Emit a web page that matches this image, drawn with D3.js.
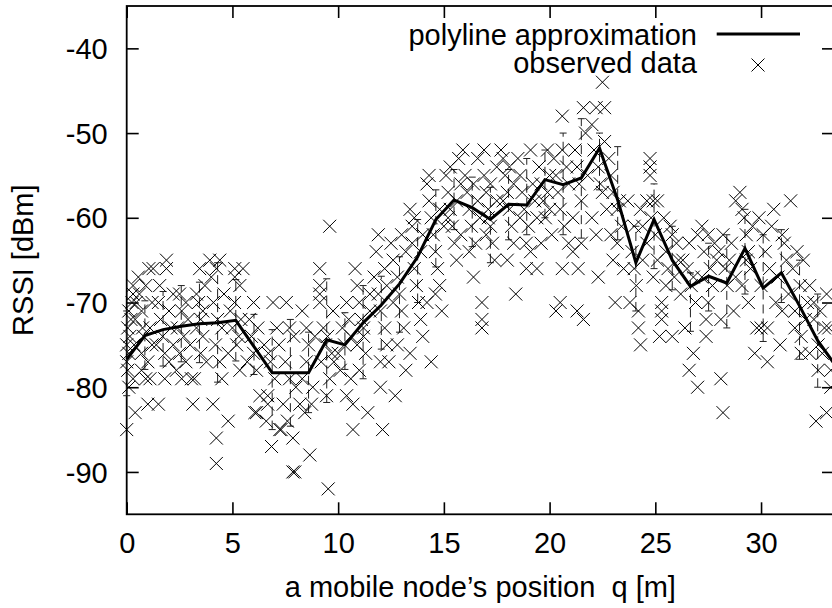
<!DOCTYPE html>
<html>
<head>
<meta charset="utf-8">
<script src="https://cdn.jsdelivr.net/npm/d3@7/dist/d3.min.js"></script>
<style>
  html, body { margin: 0; padding: 0; background: #fff; }
  svg { display: block; }
  text { font-family: "Liberation Sans", Arial, Helvetica, sans-serif; fill: #000; white-space: pre; }
</style>
</head>
<body>
<div id="chart"></div>
<script>
// ---------------- data ----------------
const xTicks = [0, 5, 10, 15, 20, 25, 30];
const yTicks = [-90, -80, -70, -60, -50, -40];
const xLabel = "a mobile node\u2019s position  q [m]";
const yLabel = "RSSI [dBm]";
const legendNames = ["polyline approximation", "observed data"];

// polyline approximation vertices (position q [m], RSSI [dBm])
const polyQ = [0, 0.86, 1.72, 2.58, 3.44, 4.30, 5.16, 6.02, 6.88, 7.74, 8.60, 9.46, 10.32, 11.18, 12.04, 12.90,
  13.76, 14.62, 15.48, 16.34, 17.20, 18.06, 18.92, 19.78, 20.64, 21.50, 22.36, 23.22, 24.08, 24.94, 25.80,
  26.66, 27.52, 28.38, 29.24, 30.10, 30.96, 31.82, 32.68, 33.54];
const polyRSSI = [-76.7, -73.9, -73.2, -72.8, -72.5, -72.4, -72.1, -75.2, -78.3, -78.3, -78.3, -74.4, -75.0, -72.4,
  -70.3, -67.8, -64.6, -60.2, -57.9, -58.8, -60.2, -58.4, -58.5, -55.5, -56.1, -55.3, -51.8, -57.9, -65.3,
  -60.2, -65.0, -68.1, -66.9, -67.7, -63.6, -68.3, -66.5, -70.4, -74.5, -77.5];

// dashed error bars at the same positions (low / high)
const errLow = [-81, -77.9, -77.5, -77, -77.1, -79.4, -76.9, -78.5, -85, -84.6, -83, -81.8, -77.9, -79, -75.5,
  -73.5, -70, -65.8, -61.4, -63.4, -65.3, -62.6, -62, -60, -62, -62.4, -56.7, -62.6, -71, -66, -68.5, -73.4,
  -71, -73, -69, -74.6, -70, -76.7, -80, -82];
const errHigh = [-71, -69.8, -68.7, -68, -67.6, -65.3, -67.3, -71.4, -73.2, -72, -73.5, -67.2, -71.2, -68, -66.9,
  -64.6, -60.2, -56.7, -54.3, -55.2, -56.4, -54.3, -53, -52, -50, -48.3, -50, -51.6, -61, -56, -61, -66.5,
  -63, -62, -59, -62, -61.4, -65, -69, -72];

// observed data [q, RSSI]
const observed = [
  [0,-85],[0.1,-80],[0.05,-78],[0,-77],[0.1,-76],[0,-75],[0.15,-74],[0.05,-73],[0.2,-72],[0.1,-71],[0.25,-70],[0.3,-69],[0.3,-68],[0.4,-83],[0.3,-79],[0.35,-75],[0.4,-72],[0.45,-70],
  [0.55,-67],[0.6,-69],[0.7,-71],[0.75,-73],[0.8,-74],[0.7,-76],[0.7,-78],[0.9,-79],[1.0,-82],[1.1,-79],[0.9,-68],[1.05,-66],[1.2,-70],[1.2,-75],[1.0,-77],[1.25,-66],[1.1,-73],
  [1.5,-82],[1.56,-68],[1.88,-65],[1.88,-66],[1.6,-72],[1.7,-74],[1.8,-76],[1.8,-79],[2.0,-71],[2.1,-73],[2.0,-77],[1.5,-70],[2.2,-69],[2.2,-75],[1.4,-75],
  [2.35,-78],[2.5,-69],[2.6,-71],[2.7,-74],[2.5,-76],[2.8,-70],[2.9,-72],[2.8,-77],[3.0,-75],[2.6,-79],[2.4,-73],
  [3.06,-79],[3.13,-82],[3.2,-79],[3.45,-66],[3.3,-69],[3.4,-70],[3.5,-72],[3.6,-74],[3.5,-76],[3.77,-77],[3.3,-73],[3.7,-68],[3.6,-71],
  [3.93,-65],[4.08,-82],[4.24,-66],[4.24,-86],[4.24,-89],[4.4,-65],[4.1,-70],[4.3,-72],[4.5,-73],[4.2,-75],[4.4,-77],[4.6,-69],[4.0,-67],[4.5,-79],
  [4.8,-84],[5.11,-66],[5.11,-67],[5.35,-68],[5.5,-66],[4.9,-71],[5.0,-73],[5.2,-75],[5.35,-78],[5.1,-70],[5.4,-72],[4.8,-76],[5.3,-74],
  [6.0,-70],[5.8,-72],[5.9,-74],[6.0,-76],[6.14,-78],[6.14,-83],[6.06,-83],[6.3,-81],[5.7,-77],[6.2,-73],
  [6.6,-84],[6.67,-81],[6.67,-82],[6.85,-87],[6.92,-70],[6.5,-75],[6.8,-77],[7.0,-79],[7.1,-73],[6.7,-76],[7.2,-75],
  [7.24,-85],[7.3,-85],[7.55,-70],[7.86,-86],[7.86,-90],[7.95,-90],[7.5,-77],[7.7,-79],[7.4,-82],[7.6,-84],[8.0,-80],[7.9,-74],[7.7,-73],
  [8.19,-82],[8.42,-83],[8.66,-88],[8.74,-82],[8.3,-79],[8.5,-77],[8.8,-80],[8.6,-75],[8.9,-74],[8.3,-71],[8.5,-73],
  [9.13,-66],[9.13,-68],[9.13,-69],[9.13,-70],[9.45,-81],[9.53,-92],[9.6,-61],[9.3,-73],[9.4,-75],[9.5,-74],[9.7,-76],[9.76,-71],[9.8,-77],[9.2,-77],[9.6,-79],
  [10.4,-81],[10.6,-79],[10.7,-82],[10.7,-85],[10.2,-73],[10.3,-75],[10.5,-72],[10.0,-76],[10.4,-70],[10.6,-74],[10.1,-78],
  [10.8,-66],[10.9,-68],[11.0,-70],[11.1,-72],[11.2,-74],[11.3,-76],[11.4,-83],[11.0,-78],[11.5,-71],[11.5,-69],[11.2,-73],[10.9,-75],
  [11.7,-67],[11.8,-64],[11.9,-69],[12.0,-71],[12.0,-77],[12.0,-80],[12.1,-85],[12.2,-73],[12.3,-75],[12.4,-77],[12.2,-66],[12.3,-68],[11.9,-62],
  [12.5,-63],[12.6,-65],[12.7,-81],[12.8,-67],[12.9,-69],[13.0,-71],[13.1,-73],[13.2,-78],[12.6,-70],[13.0,-62],[13.2,-64],[12.8,-75],
  [13.4,-59],[13.5,-61],[13.5,-63],[13.6,-66],[13.7,-68],[13.8,-70],[13.9,-72],[14.0,-74],[13.6,-60],[13.9,-64],[14.0,-62],[13.4,-76],
  [14.2,-56],[14.3,-58],[14.4,-60],[14.4,-77],[14.5,-62],[14.6,-64],[14.7,-66],[14.8,-68],[14.9,-71],[14.3,-55],[14.8,-59],[14.6,-69],[14.2,-70],[15.0,-61],
  [15.1,-55],[15.2,-57],[15.3,-59],[15.4,-61],[15.5,-63],[15.6,-65],[15.7,-53],[15.8,-56],[15.6,-58],[15.9,-52],[15.3,-54],[15.8,-62],[15.2,-60],
  [16.0,-55],[16.1,-57],[16.2,-59],[16.3,-61],[16.4,-67],[16.5,-63],[16.6,-53],[16.4,-56],[16.6,-58],[16.9,-52],[16.2,-64],[16.7,-60],
  [16.8,-70],[16.8,-72],[16.8,-73],[16.9,-55],[17.0,-57],[17.1,-59],[17.1,-60],[17.2,-61],[17.3,-63],[17.4,-65],[17.5,-54],[17.2,-56],[17.0,-62],[17.5,-58],
  [17.7,-52],[17.8,-53],[17.9,-55],[18.0,-57],[18.1,-59],[18.2,-61],[18.3,-63],[18.4,-69],[18.0,-65],[17.8,-58],[18.3,-56],[18.1,-54],
  [18.5,-53],[18.6,-55],[18.7,-57],[18.8,-59],[18.9,-66],[19.0,-61],[19.1,-52],[19.2,-56],[18.9,-63],[19.3,-58],[18.6,-60],[19.1,-64],
  [19.4,-66],[19.5,-54],[19.6,-56],[19.7,-58],[19.8,-60],[19.9,-52],[20.0,-55],[20.1,-62],[19.6,-63],[19.9,-57],[19.4,-60],[20.0,-59],
  [20.2,-53],[20.3,-55],[20.4,-57],[20.5,-59],[20.6,-52],[20.6,-48],[20.8,-54],[20.9,-56],[20.7,-61],[20.6,-66],[20.5,-70],[20.3,-71],[20.9,-63],
  [21.1,-60],[21.1,-64],[21.2,-52],[21.3,-54],[21.35,-66],[21.3,-71],[21.4,-56],[21.5,-58],[21.5,-63],[21.6,-47],[21.6,-72],[21.7,-50],[21.8,-55],
  [22.0,-60],[22.0,-49],[22.1,-52],[22.2,-47],[22.3,-67],[22.3,-54],[22.4,-56],[22.5,-44],[22.5,-57],[22.6,-47],[22.6,-51],[22.7,-59],[22.2,-62],
  [22.8,-53],[22.9,-55],[23.0,-57],[23.0,-65],[23.1,-70],[23.2,-59],[23.3,-58],[23.4,-61],[23.5,-66],[23.2,-63],[22.9,-62],
  [23.7,-58],[23.8,-70],[24.0,-61],[24.0,-66],[24.1,-68],[24.2,-71],[24.2,-73],[24.3,-75],[24.4,-61],[24.3,-59],[23.9,-64],[24.4,-65],
  [24.75,-53],[24.75,-54],[24.75,-55],[24.6,-58],[24.9,-58],[25.1,-58],[24.8,-60],[25.0,-62],[25.3,-70],[25.3,-71],[25.3,-72],[25.2,-74],[24.6,-63],[25.1,-65],[24.9,-67],
  [25.7,-61],[25.8,-62],[25.8,-74],[25.5,-64],[25.6,-66],[26.0,-63],[26.1,-65],[25.9,-67],[26.2,-69],[25.5,-68],[25.4,-60],
  [26.4,-73],[26.6,-63],[26.6,-78],[26.8,-76],[27.0,-80],[26.5,-66],[26.7,-68],[26.9,-70],[26.3,-65],[27.0,-62],[26.8,-67],
  [27.2,-61],[27.4,-72],[27.4,-74],[27.5,-62],[27.3,-64],[27.6,-66],[27.7,-68],[27.8,-63],[27.5,-70],[27.9,-65],[27.2,-67],
  [28.1,-72],[28.1,-79],[28.2,-83],[28.2,-62],[28.0,-64],[28.3,-66],[28.4,-68],[28.5,-65],[28.7,-71],[28.6,-63],[28.8,-67],
  [28.8,-58],[29.0,-57],[29.1,-59],[29.2,-60],[29.3,-62],[29.4,-70],[29.4,-64],[29.5,-66],[29.1,-68],[29.6,-61],[29.3,-65],
  [29.7,-76],[29.8,-73],[30.0,-73],[30.3,-73],[30.3,-77],[29.9,-60],[30.1,-62],[30.2,-64],[30.4,-66],[30.0,-68],[30.5,-61],
  [30.6,-59],[30.7,-70],[30.9,-75],[31.0,-71],[31.1,-63],[31.2,-65],[31.4,-58],[30.8,-67],[31.3,-69],[31.0,-62],
  [31.6,-71],[31.6,-73],[31.85,-68],[31.9,-74],[31.9,-76],[32.2,-70],[32.3,-68],[31.7,-64],[31.5,-66],[32.0,-65],[32.1,-72],
  [32.5,-70],[32.3,-76],[32.7,-75],[32.7,-78],[32.9,-76],[33.0,-73],[33.2,-73],[33.3,-78],[33.3,-80],[32.6,-84],[33.1,-83],[32.5,-72],[32.8,-71],[33.1,-69]
];

// ---------------- chart ----------------
const W = 832, H = 608;
const plotL = 126.7, plotR = 834, plotT = 6, plotB = 514.3;
const fontSize = 29;

const x = d3.scaleLinear().domain([0, 33.45]).range([plotL, plotR]);
const y = d3.scaleLinear().domain([-95, -35]).range([plotB, plotT]);
const fmt = d => String(d);

const svg = d3.select("#chart").append("svg")
  .attr("width", W).attr("height", H)
  .attr("viewBox", `0 0 ${W} ${H}`);

svg.append("rect").attr("width", W).attr("height", H).attr("fill", "#fff");

// axes (ticks pointing inward)
const gx = svg.append("g").attr("transform", `translate(0,${plotB})`)
  .call(d3.axisBottom(x).tickValues(xTicks).tickSize(-12).tickFormat(fmt));
const gxTop = svg.append("g").attr("transform", `translate(0,${plotT})`)
  .call(d3.axisTop(x).tickValues(xTicks).tickSize(-12).tickFormat(""));
const gy = svg.append("g").attr("transform", `translate(${plotL},0)`)
  .call(d3.axisLeft(y).tickValues(yTicks).tickSize(-12).tickFormat(fmt));
const gyR = svg.append("g").attr("transform", `translate(${plotR},0)`)
  .call(d3.axisRight(y).tickValues(yTicks).tickSize(-12).tickFormat(""));

[gx, gxTop, gy, gyR].forEach(g => {
  g.select(".domain").remove();
  g.selectAll(".tick line").attr("stroke", "#000").attr("stroke-width", 1.6);
});
gx.selectAll(".tick text")
  .attr("y", 39).attr("dy", 0)
  .style("font-size", fontSize + "px").style("font-family", "Liberation Sans, Arial, sans-serif");
gy.selectAll(".tick text")
  .attr("x", -19).attr("dy", "0.35em")
  .style("font-size", fontSize + "px").style("font-family", "Liberation Sans, Arial, sans-serif");

// border
svg.append("rect")
  .attr("x", plotL).attr("y", plotT)
  .attr("width", plotR - plotL).attr("height", plotB - plotT)
  .attr("fill", "none").attr("stroke", "#000").attr("stroke-width", 1.8);

// error bars (dashed)
const eb = svg.append("g");
polyQ.forEach((q, i) => {
  const px = x(q);
  eb.append("line")
    .attr("x1", px).attr("x2", px)
    .attr("y1", y(errLow[i])).attr("y2", y(errHigh[i]))
    .attr("stroke", "#222").attr("stroke-width", 1).attr("stroke-dasharray", "9,5");
  [errLow[i], errHigh[i]].forEach(v => {
    eb.append("line")
      .attr("x1", px - 3.5).attr("x2", px + 3.5)
      .attr("y1", y(v)).attr("y2", y(v))
      .attr("stroke", "#222").attr("stroke-width", 1);
  });
});

// observed data (crosses)
const s = 6.5;
const crossPath = (cx, cy) => `M${cx - s},${cy - s}L${cx + s},${cy + s}M${cx - s},${cy + s}L${cx + s},${cy - s}`;
svg.append("g").selectAll("path")
  .data(observed)
  .join("path")
  .attr("d", d => crossPath(x(d[0]), y(d[1])))
  .attr("fill", "none").attr("stroke", "#000").attr("stroke-width", 1);

// polyline approximation
const line = d3.line().x(d => x(d[0])).y(d => y(d[1]));
svg.append("path")
  .datum(polyQ.map((q, i) => [q, polyRSSI[i]]))
  .attr("d", line)
  .attr("fill", "none").attr("stroke", "#000").attr("stroke-width", 3)
  .attr("stroke-linejoin", "miter");

// axis titles
svg.append("text")
  .attr("x", (plotL + plotR) / 2).attr("y", 597)
  .attr("text-anchor", "middle").style("font-size", fontSize + "px")
  .text(xLabel);
svg.append("text")
  .attr("transform", `translate(32.5,${(plotT + plotB) / 2}) rotate(-90)`)
  .attr("text-anchor", "middle").style("font-size", fontSize + "px")
  .text(yLabel);

// legend
const lg = svg.append("g");
lg.append("text").attr("x", 697).attr("y", 45).attr("text-anchor", "end")
  .style("font-size", fontSize + "px").text(legendNames[0]);
lg.append("line").attr("x1", 716.7).attr("x2", 800).attr("y1", 34).attr("y2", 34)
  .attr("stroke", "#000").attr("stroke-width", 3);
lg.append("text").attr("x", 697).attr("y", 73.3).attr("text-anchor", "end")
  .style("font-size", fontSize + "px").text(legendNames[1]);
lg.append("path").attr("d", crossPath(758, 65))
  .attr("fill", "none").attr("stroke", "#000").attr("stroke-width", 1);
</script>
</body>
</html>
